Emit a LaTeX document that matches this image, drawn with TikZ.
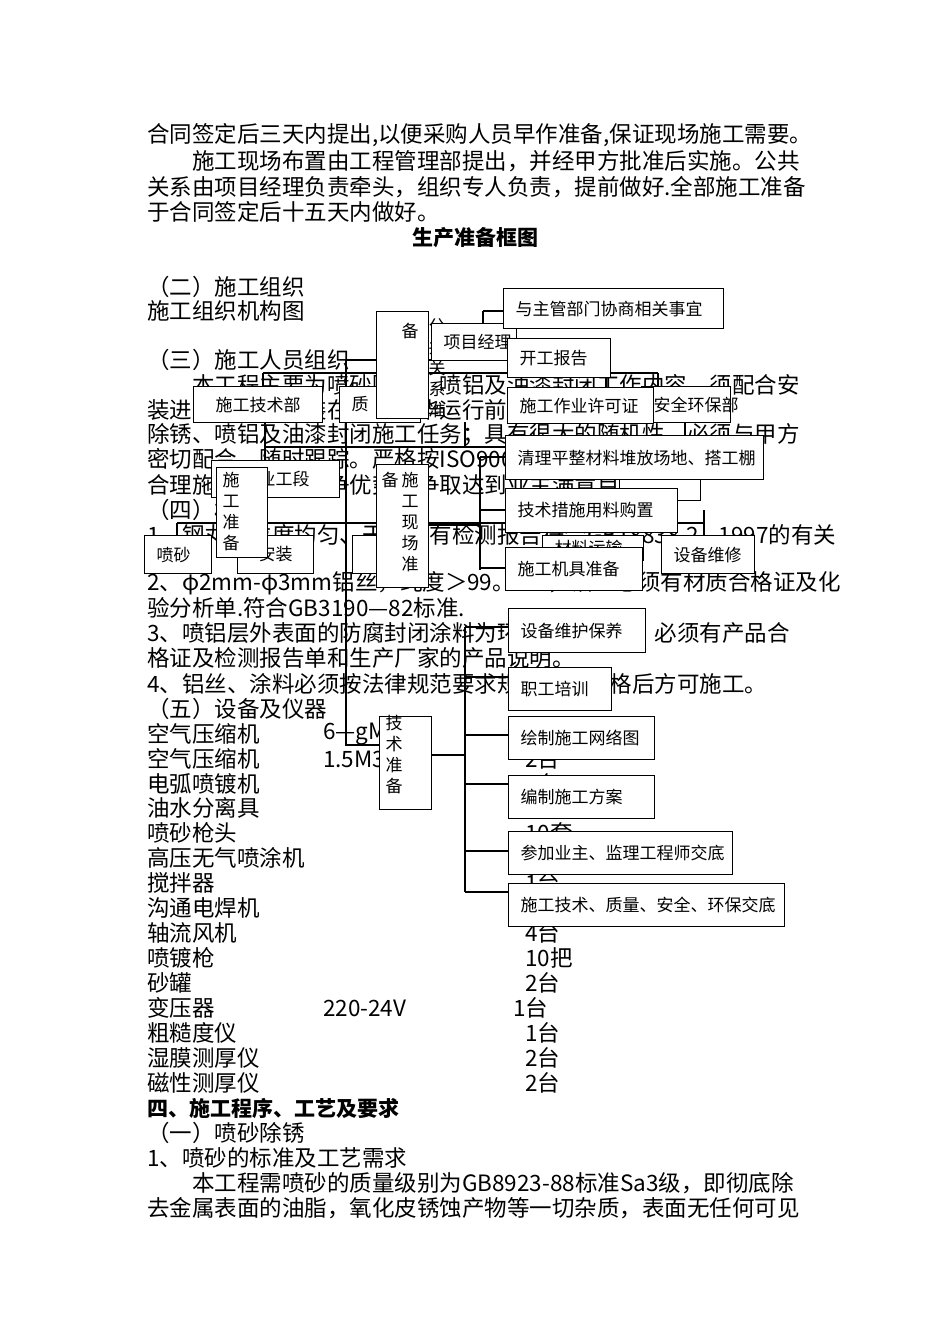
\documentclass[tikz,border=0pt]{standalone}
\usepackage{fontspec}
\setmainfont{Noto Sans CJK SC}
\begin{document}
\begin{tikzpicture}[x=1pt,y=-1pt,
 bt/.style={anchor=west,inner sep=0pt,font=\fontsize{22.5}{26}\selectfont},
 bx/.style={draw,fill=white,line width=1.1pt,inner sep=0pt,align=left,font=\fontsize{17}{21}\selectfont},
 vt/.style={inner sep=0pt,align=center,font=\fontsize{17}{21}\selectfont},
 ln/.style={line width=1.1pt}]
\useasboundingbox[fill=white] (0,0) rectangle (950,1344);
\newcommand\bxx[6]{\pgfmathsetmacro\ww{#4-#2}\pgfmathsetmacro\hh{#5-#3}\pgfmathsetmacro\tw{#4-#2-24}%
 \node[bx,minimum width=\ww pt,minimum height=\hh pt,text width=\tw pt,anchor=north west] (#1) at (#2,#3) {#6};}
% body text
\node[bt] (l1) at (147,135) {合同签定后三天内提出,以便采购人员早作准备,保证现场施工需要。};
\node[bt] (l2) at (147,161) {　　施工现场布置由工程管理部提出，并经甲方批准后实施。公共};
\node[bt] (l3) at (147,187) {关系由项目经理负责牵头，组织专人负责，提前做好.全部施工准备};
\node[bt] (l4) at (147,212) {于合同签定后十五天内做好。};
\node[bt,anchor=center,font=\fontsize{21}{24}\selectfont\bfseries] (ttl) at (475,238) {生产准备框图};
\node[bt] (l5) at (147,287) {（二）施工组织};
\node[bt] (l6) at (147,311) {施工组织机构图};
\node[bt] (l7) at (147,360) {（三）施工人员组织};
\node[bt] (l8) at (147,385) {　　本工程主要为喷砂除锈、喷铝及油漆封闭工作内容，须配合安};
\node[bt] (l9) at (147,410) {装进度，设备安装在工作完毕运行前，保质保量地完成喷砂};
\node[bt] (l10) at (147,435) {除锈、喷铝及油漆封闭施工任务；具有很大的随机性，必须与甲方};
\node[bt] (l11) at (147,460) {密切配合，随时跟踪。严格按ISO9002标准进行质量管理,};
\node[bt] (l12) at (147,485) {合理施工，发挥竞争优势，争取达到业主满意目标。};
\node[bt] (l13) at (147,510) {（四）材料};
\node[bt] (l14) at (147,535) {1、钢丸颗粒度均匀、干燥，有检测报告符合GB18838.2—1997的有关};
\node[bt] (l15) at (147,583) {2、φ2mm-φ3mm铝丝，纯度＞99。5\%，铝丝必须有材质合格证及化};
\node[bt] (l16) at (147,608) {验分析单.符合GB3190—82标准.};
\node[bt] (l17) at (147,633) {3、喷铝层外表面的防腐封闭涂料为环氧煤沥青漆，必须有产品合};
\node[bt] (l18) at (147,658) {格证及检测报告单和生产厂家的产品说明。};
\node[bt] (l19) at (147,684) {4、铝丝、涂料必须按法律规范要求规定检验合格后方可施工。};
\node[bt] (l20) at (147,709) {（五）设备及仪器};
\foreach \n/\a/\b/\c/\y in {e1/空气压缩机/6—gM3/2台/734, e2/空气压缩机/1.5M3/2台/759, e3/电弧喷镀机//2台/784, e4/油水分离具//2台/808, e5/喷砂枪头//10套/833, e6/高压无气喷涂机//1台/858, e7/搅拌器//1台/883, e8/沟通电焊机//2台/908, e9/轴流风机//4台/933, e10/喷镀枪//10把/958, e11/砂罐//2台/983, e13/粗糙度仪//1台/1033, e14/湿膜测厚仪//2台/1058, e15/磁性测厚仪//2台/1083}{
 \node[bt] (\n a) at (147,\y) {\a};
 \node[bt] (\n b) at (323,\y) {\b};
 \node[bt] (\n c) at (525,\y) {\c};}
\node[bt] (e12a) at (147,1008) {变压器};
\node[bt] (e12b) at (323,1008) {220-24V};
\node[bt] (e12c) at (513,1008) {1台};
\node[bt,font=\fontsize{21}{24}\selectfont\bfseries] (l21) at (147,1108) {四、施工程序、工艺及要求};
\node[bt] (l22) at (147,1133) {（一）喷砂除锈};
\node[bt] (l23) at (147,1158) {1、喷砂的标准及工艺需求};
\node[bt] (l24) at (147,1183) {　　本工程需喷砂的质量级别为GB8923-88标准Sa3级，即彻底除};
\node[bt] (l25) at (147,1208) {去金属表面的油脂，氧化皮锈蚀产物等一切杂质，表面无任何可见};
% connectors
\draw[ln] (346,360) -- (346,745) -- (379,745);
\draw[ln] (346,360) -- (507,360);
\draw[ln] (483,311) -- (483,360);
\draw[ln] (483,311) -- (503,311);
\draw[ln] (263,373) -- (658,373);
\draw[ln] (263,373) -- (263,386);
\draw[ln] (658,373) -- (658,386);
\draw[ln] (606,373) -- (606,390);
\draw[ln] (265,447) -- (685,447);
\draw[ln] (265,422) -- (265,470);
\draw[ln] (465,422) -- (465,447);
\draw[ln] (685,422) -- (685,470);
\draw[ln] (177,523) -- (704,523);
\draw[ln] (177,523) -- (177,535);
\draw[ln] (704,510) -- (704,535);
\draw[ln] (480,457) -- (480,570);
\draw[ln] (428,525) -- (480,525);
\draw[ln] (480,457) -- (505,457);
\draw[ln] (480,510) -- (505,510);
\draw[ln] (480,568) -- (505,568);
\draw[ln] (431,755) -- (465,755);
\draw[ln] (465,627) -- (465,892);
\foreach \yy in {627,677,735,784,851,892} \draw[ln] (465,\yy) -- (508,\yy);
% boxes (back to front)
\bxx{zhi}{339}{386}{420}{422}{质}
\bxx{fuzhu}{619}{468}{700}{500}{}
\bxx{anquan}{641}{386}{730}{422}{安全环保部}
\bxx{bei1}{376}{311}{428}{418}{}
\node[vt] (bei1t) at (410,331) {备};
\node[vt] (gg) at (437,368) {公\\共\\关\\系\\准};
\bxx{xmjl}{431}{323}{516}{360}{项目经理}
\bxx{zhuguan}{503}{288}{723}{328}{与主管部门协商相关事宜}
\bxx{kaigong}{507}{338}{610}{377}{开工报告}
\bxx{jsb}{193}{386}{322}{422}{\hfil 施工技术部}
\bxx{xuke}{507}{387}{653}{423}{施工作业许可证}
\bxx{zuoye}{211}{460}{339}{497}{\hfil 作业工段}
\bxx{anzhuang}{237}{535}{313}{573}{\hfil 安装}
\bxx{penshao}{144}{535}{211}{573}{喷砂}
\bxx{sgzb}{216}{467}{267}{557}{}
\node[vt] (sgzbt) at (231,512) {施\\工\\准\\备};
\bxx{bx3}{352}{535}{420}{573}{}
\bxx{xianchang}{376}{464}{428}{587}{}
\node[vt] (xc1) at (390,480) {备};
\node[vt] (xc2) at (410,522) {施\\工\\现\\场\\准};
\bxx{qingli}{505}{435}{763}{479}{清理平整材料堆放场地、搭工棚}
\bxx{cuoshi}{505}{488}{677}{532}{技术措施用料购置}
\bxx{yunshu}{542}{535}{643}{560}{材料运输}
\bxx{weixiu}{661}{535}{754}{573}{设备维修}
\bxx{jiju}{505}{547}{642}{590}{施工机具准备}
\bxx{baoyang}{508}{608}{645}{652}{设备维护保养}
\bxx{peixun}{508}{667}{611}{710}{职工培训}
\bxx{jszb}{379}{716}{431}{809}{}
\node[vt] (jszbt) at (394,755) {技\\术\\准\\备};
\bxx{wangluo}{508}{716}{654}{759}{绘制施工网络图}
\bxx{fangan}{508}{775}{654}{818}{编制施工方案}
\bxx{canjia}{508}{831}{732}{874}{参加业主、监理工程师交底}
\bxx{jiaodi}{508}{883}{784}{926}{施工技术、质量、安全、环保交底}
\end{tikzpicture}
\end{document}
